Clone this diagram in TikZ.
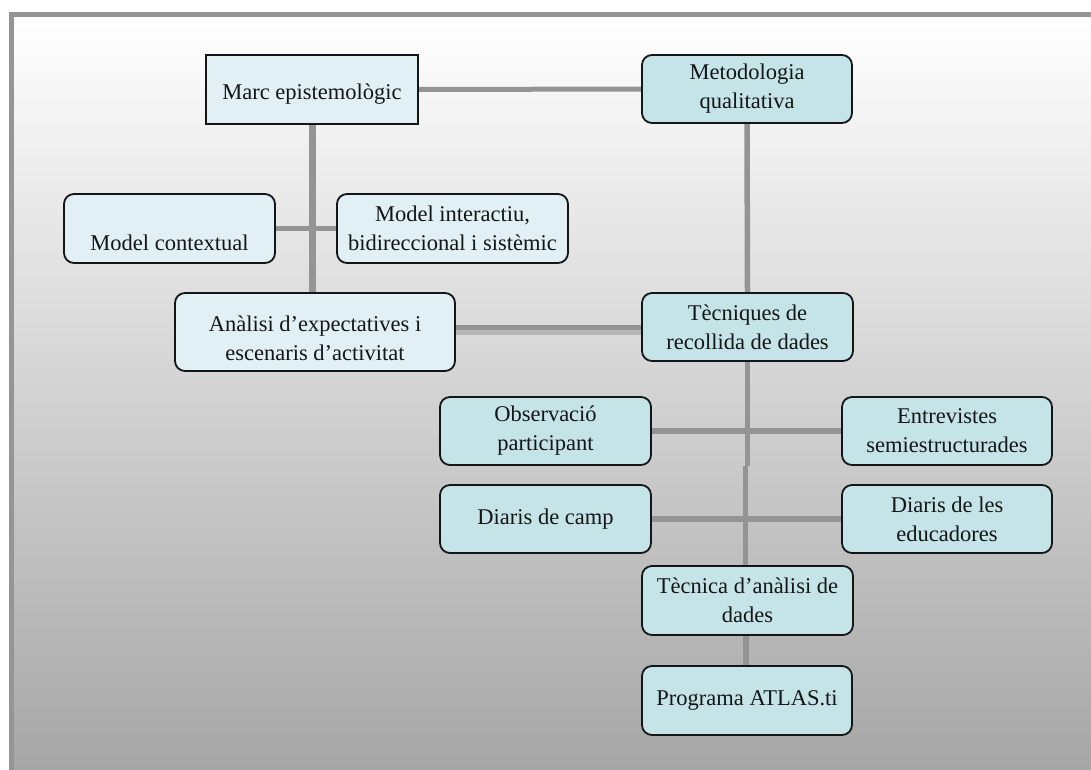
\documentclass[tikz,border=0pt]{standalone}
\usepackage{fontspec}
\setmainfont{Liberation Serif}
\usetikzlibrary{calc}
\definecolor{lineg}{HTML}{949494}
\definecolor{lineglight}{HTML}{B6B6B6}
\definecolor{lightfill}{HTML}{E0F0F5}
\definecolor{darkfill}{HTML}{C5E4E8}
\definecolor{framegray}{HTML}{959595}
\definecolor{bgbottom}{HTML}{A5A6A5}
\definecolor{ink}{HTML}{151515}
\pgfdeclarelayer{back}
\pgfdeclarelayer{links}
\pgfsetlayers{back,links,main}
\begin{document}
\begin{tikzpicture}[x=1pt,y=-1pt,
  box/.style={draw=ink, line width=1.8pt, align=center, inner sep=0pt,
    font=\fontsize{22.5}{29}\selectfont, text=ink},
  rbox/.style={box, rounded corners=10pt},
  lite/.style={fill=lightfill},
  dark/.style={fill=darkfill},
  conn/.style={draw=lineg, line width=5.5pt}]
\clip (0,0) rectangle (1091,769);
\useasboundingbox (0,0) rectangle (1091,769);

% nodes
\node[box, lite, minimum width=212pt, minimum height=69pt] (marc) at (312,89.5)
  {\raisebox{-5pt}[\height][\depth]{Marc epistemològic}};
\node[rbox, dark, minimum width=210pt, minimum height=68pt] (met) at (747,89)
  {Metodologia\\qualitativa};
\node[rbox, lite, minimum width=211pt, minimum height=69pt] (mc) at (169.5,228.5)
  {\raisebox{-14pt}[\height][\depth]{Model contextual}};
\node[rbox, lite, minimum width=231pt, minimum height=69pt] (mi) at (452.5,228.5)
  {Model interactiu,\\bidireccional i sistèmic};
\node[rbox, lite, minimum width=280pt, minimum height=78pt] (anal) at (315,332)
  {\raisebox{-8pt}[\height][\depth]{\begin{tabular}{@{}c@{}}Anàlisi d’expectatives i\\[-0.5pt]escenaris d’activitat\end{tabular}}};
\node[rbox, dark, minimum width=211pt, minimum height=68pt] (tec) at (747.5,327)
  {Tècniques de\\recollida de dades};
\node[rbox, dark, minimum width=211pt, minimum height=68pt] (obs) at (545.5,431)
  {Observació\\participant};
\node[rbox, dark, minimum width=210pt, minimum height=68pt] (ent) at (947,431)
  {Entrevistes\\semiestructurades};
\node[rbox, dark, minimum width=211pt, minimum height=68pt] (dc) at (545.5,519)
  {Diaris de camp};
\node[rbox, dark, minimum width=210pt, minimum height=68pt] (de) at (947,519)
  {Diaris de les\\educadores};
\node[rbox, dark, minimum width=211pt, minimum height=69pt] (tca) at (747.5,600.5)
  {Tècnica d’anàlisi de\\dades};
\node[rbox, dark, minimum width=210pt, minimum height=69pt] (prog) at (747,700.5)
  {Programa ATLAS.ti};

% background and frame
\begin{pgfonlayer}{back}
  \fill[white] (0,0) rectangle (1091,769);
  \shade[top color=white, bottom color=bgbottom] (14,17) rectangle (1091,769);
  \draw[framegray, line width=5.5pt] (11.5,780) -- (11.5,14.5) -- (1100,14.5);
\end{pgfonlayer}

% connectors
\begin{pgfonlayer}{links}
  \draw[conn, line width=5pt] (marc.east) -- (met.west);
  \draw[conn, line width=7pt] (marc.south) -- (marc.south |- anal.north);
  \draw[conn] (mc.east) -- (mi.west);
  \draw[conn] (met.south) -- (tec.north);
  \coordinate (a1) at ([yshift=4.5pt]anal.east);
  \coordinate (a2) at ([yshift=-0.5pt]anal.east);
  \draw[conn, line width=5pt] (a1) -- (a1 -| tec.west);
  \draw[conn, draw=lineglight, line width=5pt] (a2) -- (a2 -| tec.west);
  \coordinate (j1) at (tec.south |- obs.south);
  \draw[conn] (tec.south) -- (j1);
  \coordinate (j2) at ([xshift=-2pt]j1);
  \draw[conn] (j2) -- (j2 |- tca.north);
  \draw[conn] (obs.east) -- (ent.west);
  \draw[conn] (dc.east) -- (de.west);
  \coordinate (j3) at ([xshift=-1.5pt]tca.south);
  \draw[conn] (j3) -- (j3 |- prog.north);
\end{pgfonlayer}
\end{tikzpicture}
\end{document}
